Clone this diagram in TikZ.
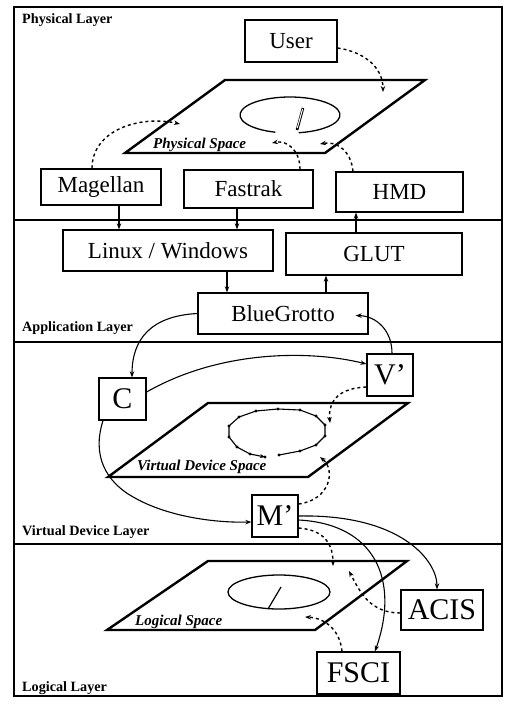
\documentclass[tikz,border=0pt]{standalone}
\usepackage{fontspec}
\setmainfont{Liberation Serif}
\usetikzlibrary{arrows.meta,calc}
\begin{document}
\begin{tikzpicture}[x=1pt,y=-1pt,
  box/.style={draw,line width=1.3pt,inner sep=0pt,font=\fontsize{23}{24}\selectfont},
  bigbox/.style={draw,line width=1.3pt,inner sep=0pt,font=\fontsize{30}{32}\selectfont},
  layerlabel/.style={anchor=west,inner sep=0pt,font=\fontsize{14.2}{15}\selectfont\bfseries},
  spacelabel/.style={anchor=west,inner sep=0pt,font=\fontsize{15}{16}\selectfont\bfseries\itshape},
  plane/.style={line width=2.4pt,line join=miter},
  conn/.style={line width=1.1pt,-{Stealth[length=6pt,width=4.5pt]}},
  dconn/.style={line width=1.4pt,dash pattern=on 3pt off 3pt,-{Stealth[length=6pt,width=4.5pt]}}]
\useasboundingbox (0,0) rectangle (506,707);
\fill[white] (0,0) rectangle (506,707);
% frame and layer separators
\draw[line width=1.3pt] (14,7) rectangle (502,696);
\draw[line width=1.3pt] (14,220) -- (502,220);
\draw[line width=1.3pt] (14,342) -- (502,342);
\draw[line width=1.3pt] (14,544) -- (502,544);
% layer labels
\node[layerlabel] (lphys) at (22,20) {Physical Layer};
\node[layerlabel] (lapp) at (22,328) {Application Layer};
\node[layerlabel] (lvirt) at (22,532) {Virtual Device Layer};
\node[layerlabel] (llog) at (22,688) {Logical Layer};
% planes
\draw[plane] (125,153) -- (325,153) -- (425,80) -- (225,80) -- cycle;
\draw[plane] (108,477) -- (308,477) -- (408,403) -- (208,403) -- cycle;
\draw[plane] (107,630) -- (315,630) -- (407,561) -- (208,561) -- cycle;
\node[spacelabel] (sphys) at (153,145) {Physical Space};
\node[spacelabel] (svirt) at (137,467) {Virtual Device Space};
\node[spacelabel] (slog) at (135,622) {Logical Space};
% physical space drawing
\draw[line width=1.3pt] (290,115) ++(107:50 and 18) arc[start angle=107,end angle=440,x radius=50,y radius=18];
\draw[line width=2.6pt] (297,130) -- (303,108);
\draw[line width=1.0pt,white] (297.3,128) -- (302.6,109);
% virtual space polygon
\draw[line width=1.1pt,-{Stealth[length=5pt,width=4pt]}]
  plot[mark=*,mark size=0.9pt,mark options={fill=black}] coordinates {
  (279,455) (300,451) (316,445) (325,436) (325,425) (316,416) (300,410) (278,409)
  (256,411) (239,417) (229,426) (229,437) (237,447) (250,454) (265,457)};
% logical space drawing
\draw[line width=1.3pt] (279,592) ellipse[x radius=51,y radius=17];
\draw[line width=1.2pt] (281,587) -- (268,609);
% boxes
\node[box,minimum width=92pt,minimum height=42pt] (user) at (291,41) {User};
\node[box,minimum width=120pt,minimum height=36pt] (magellan) at (101,187) {Magellan};
\node[box,minimum width=129pt,minimum height=38pt] (fastrak) at (248.5,189) {Fastrak};
\node[box,minimum width=127pt,minimum height=40pt] (hmd) at (399.5,192) {HMD};
\node[box,minimum width=210pt,minimum height=41pt] (linux) at (168,250.5) {Linux / Windows};
\node[box,minimum width=176pt,minimum height=42pt] (glut) at (374,254) {GLUT};
\node[box,minimum width=170pt,minimum height=41pt] (blue) at (283,313.5) {BlueGrotto};
\node[bigbox,minimum width=46pt,minimum height=42pt] (vp) at (390,375) {V’};
\node[bigbox,minimum width=47pt,minimum height=42pt] (c) at (122.5,399) {C};
\node[bigbox,minimum width=46pt,minimum height=42pt] (mp) at (275,516) {M’};
\node[bigbox,minimum width=82pt,minimum height=40pt] (acis) at (442,610) {ACIS};
\node[bigbox,minimum width=83pt,minimum height=42pt] (fsci) at (358.5,673) {FSCI};
% free ends
\coordinate (tUser) at (383,92);
\coordinate (tMag) at (180,124);
\coordinate (tFas) at (272,143);
\coordinate (tHmd) at (320,144);
\coordinate (tBlue) at ($(blue.east)+(-13,2)$);
\coordinate (tVp) at (330,423);
\coordinate (tMp) at (320,457);
\coordinate (tLog1) at (333,566);
\coordinate (tLog2) at (349,571);
\coordinate (tLog3) at (305,617);
% start points of straight arrows
\coordinate (sMag) at ($(magellan.south)+(18,0)$);
\coordinate (sFas) at ($(fastrak.south)+(-11.5,0)$);
\coordinate (sGlut) at ($(glut.north)+(-18,0)$);
\coordinate (sLin) at ($(linux.south)+(59,0)$);
\coordinate (sBlue) at ($(blue.north)+(43,0)$);
% physical layer dashed
\draw[dconn] ($(user.east)+(0,7)$) .. controls (365,52) and (383,68) .. (tUser);
\draw[dconn] ($(magellan.north)+(-9,0)$) .. controls (92,130) and (140,115) .. (tMag);
\draw[dconn] ($(fastrak.north)+(51.5,0)$) .. controls (300,150) and (287,140) .. (tFas);
\draw[dconn] ($(hmd.north)+(-46.5,0)$) .. controls (351,150) and (336,141) .. (tHmd);
% application layer arrows
\draw[conn] (sMag) -- (sMag |- linux.north);
\draw[conn] (sFas) -- (sFas |- linux.north);
\draw[conn] (sGlut) -- (sGlut |- hmd.south);
\draw[conn] (sLin) -- (sLin |- blue.north);
\draw[conn] (sBlue) -- (sBlue |- glut.south);
% virtual device layer
\draw[conn] (blue.west) .. controls (150,316) and (132,340) .. ($(c.north)+(9.5,0)$);
\draw[conn] ($(vp.north)+(2,0)$) .. controls (392,330) and (376,316) .. (tBlue);
\draw[conn] ($(c.east)+(0,-7)$) .. controls (220,350) and (310,350) .. ($(vp.west)+(0,-11)$);
\draw[line width=1.1pt] ($(c.south)+(-19.5,0)$) .. controls (92,455) and (105,482) .. (135,498);
\draw[conn] (135,498) .. controls (165,515) and (210,523) .. ($(mp.west)+(0,6)$);
\draw[dconn] ($(vp.west)+(0,12)$) .. controls (340,388) and (328,400) .. (tVp);
\draw[dconn] ($(mp.east)+(0,-12)$) .. controls (330,500) and (336,470) .. (tMp);
% logical layer
\draw[conn] (mp.east) .. controls (400,514) and (437,560) .. ($(acis.north)+(-5,0)$);
\draw[conn] ($(mp.east)+(0,4)$) .. controls (375,524) and (400,580) .. ($(fsci.north)+(16.5,0)$);
\draw[dconn] ($(mp.east)+(0,12)$) .. controls (325,530) and (333,545) .. (tLog1);
\draw[dconn] ($(acis.west)+(0,3)$) .. controls (370,613) and (360,592) .. (tLog2);
\draw[dconn] ($(fsci.north)+(-16.5,0)$) .. controls (340,630) and (325,618) .. (tLog3);
\end{tikzpicture}
\end{document}
